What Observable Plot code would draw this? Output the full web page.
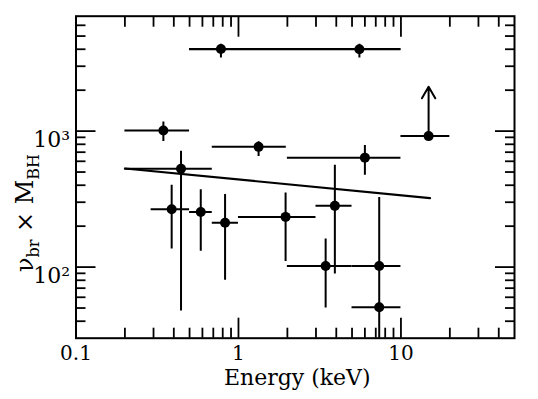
<!DOCTYPE html>
<html>
<head>
<meta charset="utf-8">
<script src="https://cdn.jsdelivr.net/npm/d3@7"></script>
<script src="https://cdn.jsdelivr.net/npm/@observablehq/plot@0.6"></script>
<style>
  html, body { margin: 0; padding: 0; background: #fff; }
</style>
</head>
<body>
<div id="chart"></div>
<script>
// ---- data ----
const energy   = [0.78, 5.55, 0.345, 1.33, 14.8, 6.0, 0.443, 0.388, 0.586, 0.827, 1.95, 3.92, 3.44, 7.35, 7.35];
const energyLo = [0.5,  0.5,  0.2,   0.69, 10,   2,   0.2,   0.29,  0.5,   0.69,  1.0,  3.0,  2.0,  5.0,  5.0];
const energyHi = [10,   10,   0.5,   1.97, 20,   10,  0.69,  0.5,   0.69,  1.0,   3.0,  5.0,  5.0,  10,   10];
const value    = [4020, 4000, 1010,  766,  919,  638, 528,   266,   254,   212,   234,  282,  102,  102,  50.7];
const valueLo  = [3450, 3450, 840,   650,  919,  474, 47.5,  136,   131,   80,    110,  89,   50,   25,   47];
const valueHi  = [4350, 4350, 1165,  835,  919,  785, 710,   400,   370,   342,   351,  562,  161,  325,  55];

// lower limit (arrow)
const limitEnergy = [14.8];
const limitFrom   = [919];
const limitTo     = [2120];

// fitted line
const fitEnergy = [0.2, 15.1];
const fitValue  = [531, 322];

// ticks
const xMajor = [1, 10];
const xMinor = [0.2, 0.3, 0.4, 0.5, 0.6, 0.7, 0.8, 0.9, 2, 3, 4, 5, 6, 7, 8, 9, 20, 30, 40];
const yMajor = [100, 1000];
const yMinor = [40, 50, 60, 70, 80, 90, 200, 300, 400, 500, 600, 700, 800, 900, 2000, 3000, 4000, 5000, 6000];
const xTickValues = [0.1, 1, 10];
const xTickLabels = ["0.1", "1", "10"];
const yTickValues = [100, 1000];
const yTickLabels = ["10²", "10³"];

// ---- build ----
const rows = energy.map((e, i) => ({e, eLo: energyLo[i], eHi: energyHi[i], v: value[i], vLo: valueLo[i], vHi: valueHi[i]}));
const limits = limitEnergy.map((e, i) => ({e, v1: limitFrom[i], v2: limitTo[i]}));
const fit = fitEnergy.map((e, i) => ({e, v: fitValue[i]}));

const tickStyle = {fill: "none", label: null, strokeWidth: 1.8};

const chart = Plot.plot({
  width: 538,
  height: 399,
  marginLeft: 75.5,
  marginRight: 24,
  marginTop: 15.7,
  marginBottom: 61.3,
  style: {fontFamily: "DejaVu Serif", background: "white", color: "black"},
  x: {type: "log", domain: [0.1, 50]},
  y: {type: "log", domain: [30, 7000]},
  marks: [
    Plot.ruleY(rows, {y: "v", x1: "eLo", x2: "eHi", stroke: "black", strokeWidth: 2, clip: true}),
    Plot.ruleX(rows.filter(d => d.vLo !== d.vHi), {x: "e", y1: "vLo", y2: "vHi", stroke: "black", strokeWidth: 2, clip: true}),
    Plot.line(fit, {x: "e", y: "v", stroke: "black", strokeWidth: 2.2}),
    Plot.arrow(limits, {x1: "e", y1: "v1", x2: "e", y2: "v2", stroke: "black", strokeWidth: 2, headLength: 10, headAngle: 60}),
    Plot.dot(rows, {x: "e", y: "v", r: 5, fill: "black", stroke: "none"}),
    // inward ticks on all four sides
    Plot.axisX(xMinor, {anchor: "bottom", tickSize: -10, ...tickStyle}),
    Plot.axisX(xMajor, {anchor: "bottom", tickSize: -20, ...tickStyle}),
    Plot.axisX(xMinor, {anchor: "top", tickSize: -10, ...tickStyle}),
    Plot.axisX(xMajor, {anchor: "top", tickSize: -20, ...tickStyle}),
    Plot.axisY(yMinor, {anchor: "left", tickSize: -10, ...tickStyle}),
    Plot.axisY(yMajor, {anchor: "left", tickSize: -20, ...tickStyle}),
    Plot.axisY(yMinor, {anchor: "right", tickSize: -10, ...tickStyle}),
    Plot.axisY(yMajor, {anchor: "right", tickSize: -20, ...tickStyle}),
    Plot.frame({stroke: "black", strokeWidth: 2}),
    // tick labels
    Plot.axisX(xTickValues, {anchor: "bottom", tickSize: 0, tickPadding: 8, fontSize: 20, label: null,
      tickFormat: d => xTickLabels[xTickValues.indexOf(d)]}),
    Plot.axisY(yTickValues, {anchor: "left", tickSize: 0, tickPadding: 6, fontSize: 22, label: null, dy: 9,
      tickFormat: d => yTickLabels[yTickValues.indexOf(d)]}),
    // axis title
    Plot.text(["Energy (keV)"], {frameAnchor: "bottom", dy: 47, dx: 2, fontSize: 22, fill: "black"})
  ]
});

// y-axis title with subscripts
const svg = d3.select(chart);
const t = svg.append("text")
  .attr("transform", "translate(33,213) rotate(-90)")
  .attr("text-anchor", "middle")
  .attr("fill", "black")
  .style("font-family", "DejaVu Serif")
  .style("font-size", "24px");
t.append("tspan").text("ν");
t.append("tspan").attr("dy", 6).style("font-size", "16px").text("br");
t.append("tspan").attr("dy", -6).text(" × M");
t.append("tspan").attr("dy", 6).style("font-size", "16px").text("BH");

document.getElementById("chart").appendChild(chart);
</script>
</body>
</html>
